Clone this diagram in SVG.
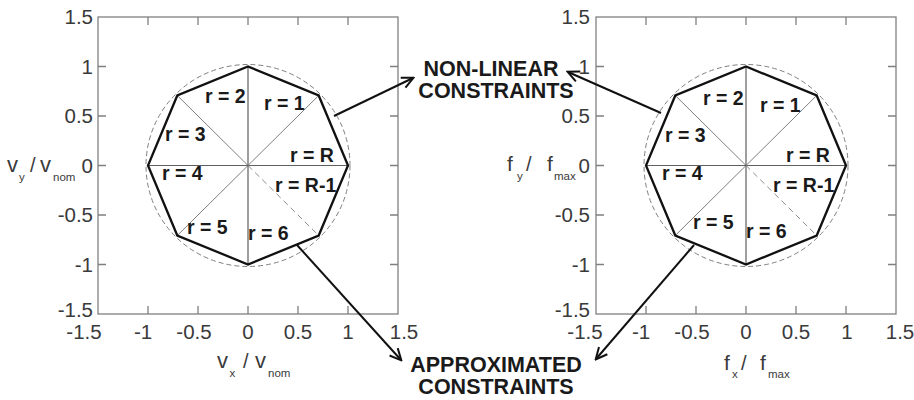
<svg xmlns="http://www.w3.org/2000/svg" width="914" height="400" viewBox="0 0 914 400">
<defs>
<style>
.box{fill:none;stroke:#808080;stroke-width:1.3}
.tick{stroke:#808080;stroke-width:1.3}
.tl{font-family:"Liberation Sans",Arial,sans-serif;font-size:20.5px;fill:#3a3a3a}
.ax{font-family:"Liberation Sans",Arial,sans-serif;fill:#3a3a3a}
.spoke{stroke:#707070;stroke-width:0.9;fill:none}
.axisl{stroke:#606060;stroke-width:1.2;fill:none}
.dash{stroke:#808080;stroke-width:0.9;stroke-dasharray:6 4;fill:none}
.circ{fill:none;stroke:#707070;stroke-width:0.9;stroke-dasharray:5 3}
.oct{fill:none;stroke:#111;stroke-width:2.3;stroke-linejoin:miter}
.rl{font-family:"Liberation Sans",Arial,sans-serif;font-weight:bold;font-size:19.5px;fill:#1a1a1a}
.big{font-family:"Liberation Sans",Arial,sans-serif;font-weight:bold;font-size:21.5px;fill:#1a1a1a;text-anchor:middle}
.arrow{stroke:#111;stroke-width:2;fill:none;marker-end:url(#ah)}
</style>
<marker id="ah" viewBox="0 0 14 14" refX="12" refY="7" markerWidth="14" markerHeight="14" markerUnits="userSpaceOnUse" orient="auto">
<path d="M1,1.5 L12.5,7 L1,12.5" fill="none" stroke="#111" stroke-width="2"/>
</marker>
</defs>
<rect width="914" height="400" fill="#fff"/>

<g id="left-plot">
<rect class="box" x="98" y="17" width="300" height="297"/>
<g class="tick">
<path d="M148,17v8M198,17v8M248,17v8M298,17v8M348,17v8"/>
<path d="M148,314v-8M198,314v-8M248,314v-8M298,314v-8M348,314v-8"/>
<path d="M98,66.5h8M98,116h8M98,165.5h8M98,215h8M98,264.5h8"/>
<path d="M398,66.5h-8M398,116h-8M398,165.5h-8M398,215h-8M398,264.5h-8"/>
</g>
<g class="tl" text-anchor="end">
<text x="93" y="24">1.5</text>
<text x="93" y="73.5">1</text>
<text x="93" y="123">0.5</text>
<text x="93" y="172.5">0</text>
<text x="93" y="222">-0.5</text>
<text x="93" y="271.5">-1</text>
<text x="93" y="317">-1.5</text>
</g>
<g class="tl" text-anchor="middle">
<text x="84" y="339">-1.5</text>
<text x="143" y="339">-1</text>
<text x="194" y="339">-0.5</text>
<text x="248" y="339">0</text>
<text x="298" y="339">0.5</text>
<text x="348" y="339">1</text>
<text x="404" y="339">1.5</text>
</g>
<g class="ax">
<text x="7" y="172" font-size="22">v</text>
<text x="19" y="181" font-size="11.5">y</text>
<text x="30" y="172" font-size="20">/</text>
<text x="40" y="172" font-size="22">v</text>
<text x="53" y="181" font-size="11.5">nom</text>
<text x="217" y="368" font-size="22">v</text>
<text x="229.5" y="377" font-size="11.5">x</text>
<text x="243" y="368" font-size="20">/</text>
<text x="255" y="368" font-size="22">v</text>
<text x="268" y="377" font-size="11.5">nom</text>
</g>
<ellipse class="circ" cx="248" cy="165.5" rx="102" ry="101"/>
<path class="spoke" d="M248,165.5L318.7,95.5M248,165.5L177.3,95.5M248,165.5L177.3,235.5"/>
<path class="axisl" d="M148,165.5H348M248,66.5V264.5"/>
<path class="dash" d="M248,165.5L318.7,235.5"/>
<polygon class="oct" points="348,165.5 318.7,95.5 248,66.5 177.3,95.5 148,165.5 177.3,235.5 248,264.5 318.7,235.5"/>
<g class="rl">
<text x="205" y="103">r = 2</text>
<text x="264" y="110">r = 1</text>
<text x="165" y="141">r = 3</text>
<text x="290" y="162">r = R</text>
<text x="162" y="180">r = 4</text>
<text x="275" y="192">r = R-1</text>
<text x="187" y="234">r = 5</text>
<text x="248" y="240">r = 6</text>
</g>
</g>

<g id="right-plot">
<rect class="box" x="596" y="17" width="300" height="297"/>
<g class="tick">
<path d="M646,17v8M696,17v8M746,17v8M796,17v8M846,17v8"/>
<path d="M646,314v-8M696,314v-8M746,314v-8M796,314v-8M846,314v-8"/>
<path d="M596,66.5h8M596,116h8M596,165.5h8M596,215h8M596,264.5h8"/>
<path d="M896,66.5h-8M896,116h-8M896,165.5h-8M896,215h-8M896,264.5h-8"/>
</g>
<g class="tl" text-anchor="end">
<text x="590" y="24">1.5</text>
<text x="590" y="73.5">1</text>
<text x="590" y="123">0.5</text>
<text x="590" y="172.5">0</text>
<text x="590" y="222">-0.5</text>
<text x="590" y="271.5">-1</text>
<text x="590" y="317">-1.5</text>
</g>
<g class="tl" text-anchor="middle">
<text x="585" y="339">-1.5</text>
<text x="641" y="339">-1</text>
<text x="692" y="339">-0.5</text>
<text x="746" y="339">0</text>
<text x="796" y="339">0.5</text>
<text x="847" y="339">1</text>
<text x="900" y="339">1.5</text>
</g>
<g class="ax">
<text x="507" y="171" font-size="21">f</text>
<text x="517" y="180" font-size="11.5">y</text>
<text x="526" y="171" font-size="20">/</text>
<text x="547" y="171" font-size="21">f</text>
<text x="554" y="180" font-size="11.5">max</text>
<text x="724" y="370" font-size="21">f</text>
<text x="732" y="378" font-size="11.5">x</text>
<text x="741" y="370" font-size="20">/</text>
<text x="760" y="370" font-size="21">f</text>
<text x="768" y="378" font-size="11.5">max</text>
</g>
<ellipse class="circ" cx="746" cy="165.5" rx="102" ry="101"/>
<path class="spoke" d="M746,165.5L816.7,95.5M746,165.5L675.3,95.5M746,165.5L675.3,235.5"/>
<path class="axisl" d="M646,165.5H846M746,66.5V264.5"/>
<path class="dash" d="M746,165.5L816.7,235.5"/>
<polygon class="oct" points="846,165.5 816.7,95.5 746,66.5 675.3,95.5 646,165.5 675.3,235.5 746,264.5 816.7,235.5"/>
<g class="rl">
<text x="703" y="105">r = 2</text>
<text x="760" y="112">r = 1</text>
<text x="665" y="142">r = 3</text>
<text x="786" y="162">r = R</text>
<text x="662" y="180">r = 4</text>
<text x="773" y="192">r = R-1</text>
<text x="693" y="229">r = 5</text>
<text x="746" y="238">r = 6</text>
</g>
</g>

<g id="label-nonlinear">
<text class="big" x="491" y="76">NON-LINEAR</text>
<text class="big" x="496" y="98">CONSTRAINTS</text>
</g>
<g id="label-approx">
<text class="big" x="496" y="372">APPROXIMATED</text>
<text class="big" x="496" y="394">CONSTRAINTS</text>
</g>

<g id="connectors">
<line class="arrow" x1="334" y1="116" x2="413" y2="78"/>
<line class="arrow" x1="661" y1="113" x2="568" y2="72"/>
<line class="arrow" x1="297" y1="245" x2="401" y2="360"/>
<line class="arrow" x1="694" y1="245" x2="596" y2="359"/>
</g>
</svg>
